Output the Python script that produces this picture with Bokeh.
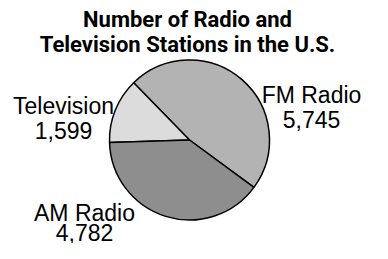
from bokeh.plotting import figure
from bokeh.models import ColumnDataSource, Label, Range1d
from bokeh.core.properties import value
from bokeh.embed import file_html
from bokeh.resources import INLINE
import numpy as np

# ---- data ----
categories = ["FM Radio", "Television", "AM Radio"]
stations = [5745, 1599, 4782]
title_lines = ["Number of Radio and", "Television Stations in the U.S."]

# ---- styles / layout ----
colors = ["#b3b3b3", "#dcdcdc", "#8e8e8e"]
W, H = 372, 243
cx, cy, r = 189, 103.5, 80
start_deg = -36.3
label_x = [311, 63, 84]
name_y = [149, 138, 31]
num_y = [124, 113, 11]
title_font = "Roboto"

vals = np.array(stations, dtype=float)
fr = vals / vals.sum()
ends = np.deg2rad(start_deg) + np.cumsum(fr) * 2 * np.pi
starts = np.concatenate([[np.deg2rad(start_deg)], ends[:-1]])

src = ColumnDataSource(dict(
    cat=categories, val=stations, start=starts, end=ends, color=colors,
    x=[cx] * 3, y=[cy] * 3,
))

p = figure(width=W, height=H, output_backend="svg", toolbar_location=None,
           x_range=Range1d(0, W), y_range=Range1d(0, H), min_border=0,
           x_axis_location=None, y_axis_location=None)
p.grid.visible = False
p.outline_line_color = None

p.wedge(x="x", y="y", radius=r, start_angle="start", end_angle="end",
        fill_color="color", line_color="black", line_width=1.5, source=src)

lab_src = ColumnDataSource(dict(
    x=label_x, y=name_y, y2=num_y, name=categories,
    num=[f"{v:,}" for v in stations],
))
for col, ycol in (("name", "y"), ("num", "y2")):
    p.text(x="x", y=ycol, text=col, source=lab_src, text_align="center",
           text_baseline="alphabetic", text_font=value("Liberation Sans"),
           text_font_size="23px", text_color="black")

for i, t in enumerate(title_lines):
    p.add_layout(Label(x=187, y=H - 19 - i * 25, x_units="data", y_units="data",
                       text=t, text_align="center", text_baseline="alphabetic",
                       text_font=title_font, text_font_style="bold",
                       text_font_size="22px", text_color="black"))

open("out.html", "w").write(file_html(p, INLINE))
